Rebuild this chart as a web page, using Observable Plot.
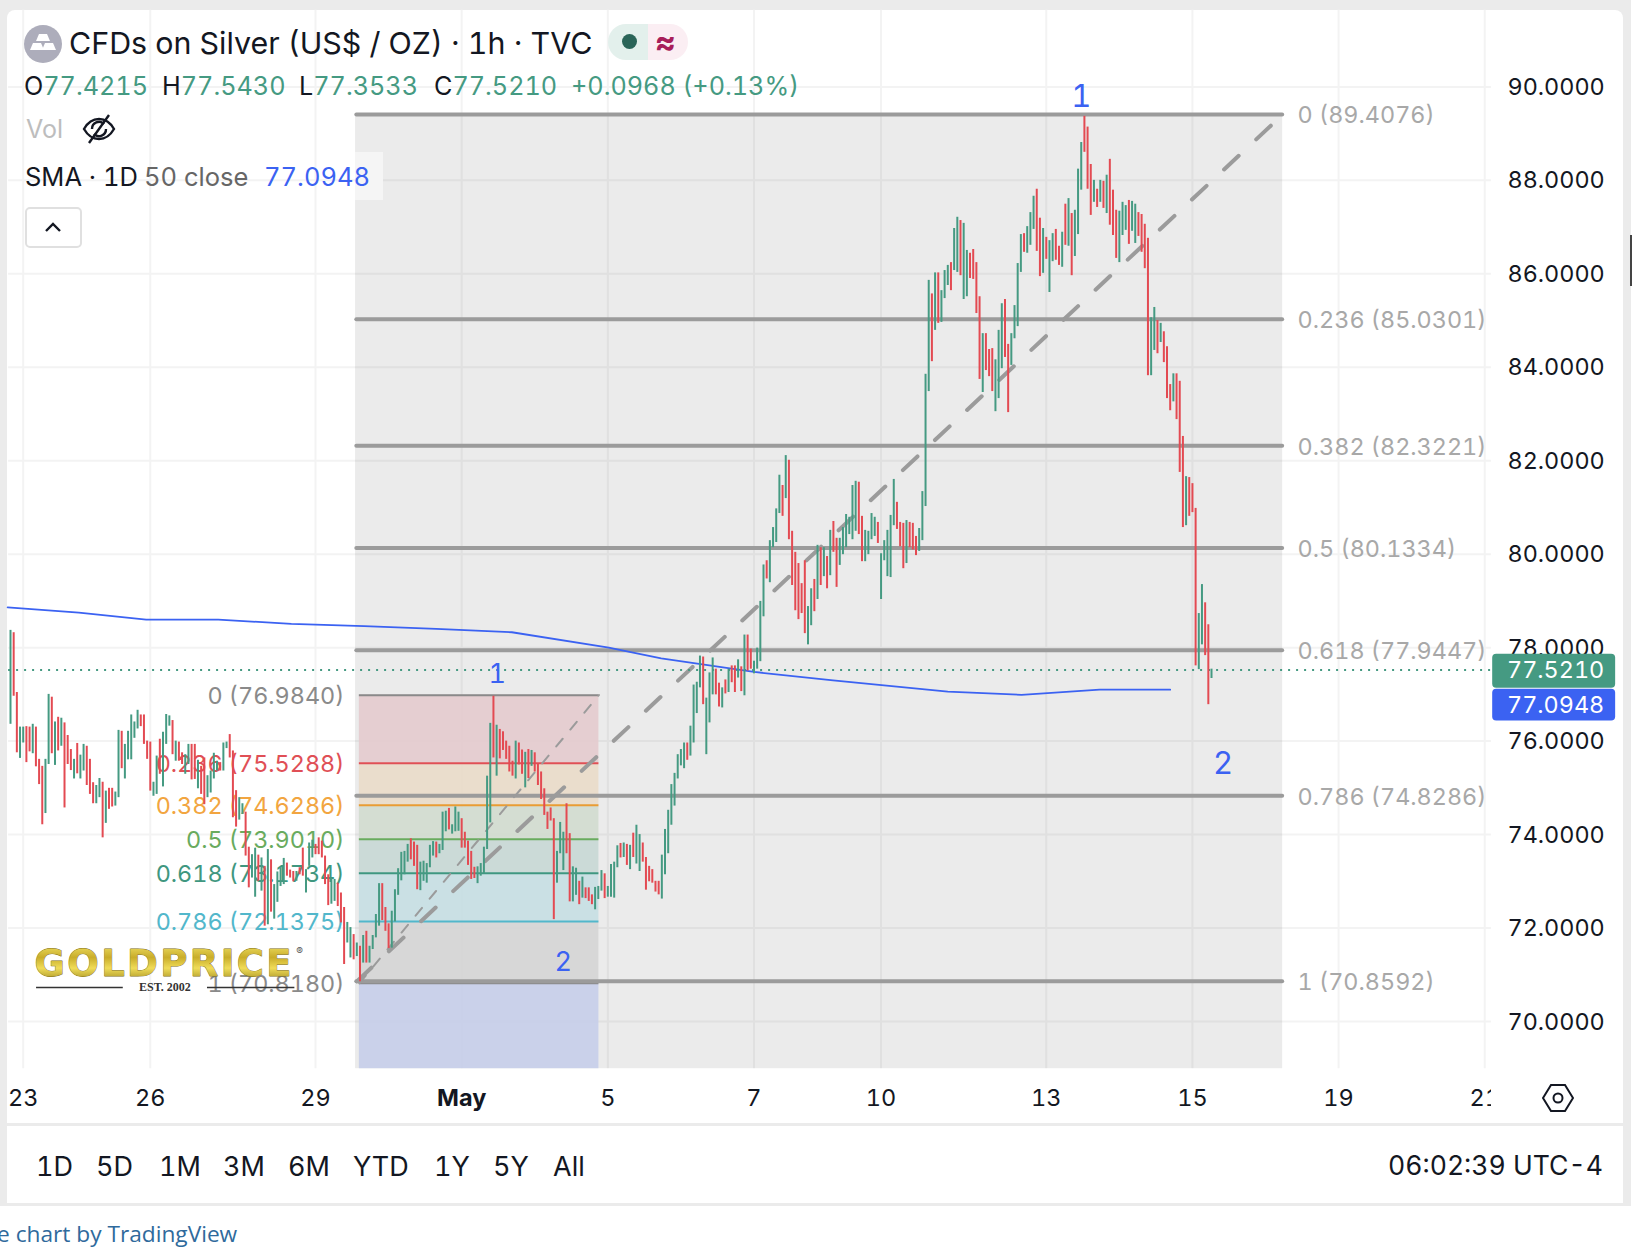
<!DOCTYPE html>
<html><head><meta charset="utf-8">
<script src="https://cdn.jsdelivr.net/npm/d3@7"></script>
<script src="https://cdn.jsdelivr.net/npm/@observablehq/plot@0.6"></script>
<style>
html,body{margin:0;padding:0;background:#fff;font-family:Inter,sans-serif;color:#131722;font-variant-numeric:tabular-nums}
#page{position:relative;width:1632px;height:1256px;overflow:hidden;background:#fff}
#frame{position:absolute;left:0;top:0;width:1632px;height:1206px;background:#ebebeb}
#inner{position:absolute;left:7px;top:10px;width:1616px;height:1193px;background:#fff;border-radius:8px 8px 0 0}
#chart{position:absolute;left:0;top:0}
#chart svg text{font-variant-numeric:tabular-nums}
.logo text{letter-spacing:2.4px}
.t{position:absolute;white-space:nowrap;line-height:40px;height:40px}
.g{color:#459a82}
</style></head><body>
<div id="page">
<div id="frame"></div><div id="inner"></div>
<svg width="0" height="0" style="position:absolute"><defs>
<linearGradient id="gold" x1="0" y1="0" x2="0" y2="1">
<stop offset="0" stop-color="#f4e66b"/><stop offset=".35" stop-color="#c9ad2a"/><stop offset=".6" stop-color="#f0dc58"/><stop offset="1" stop-color="#8f7a12"/>
</linearGradient></defs></svg>
<div id="chart"></div>
<div id="ui"></div>
</div>
<script>
// ---------- OHLC bars (high / low / direction) ----------
const highsA=[78.37,78.32,77.04,76.30,76.30,76.31,76.30,76.36,76.30,75.61,
75.46,75.61,77.00,76.94,76.41,76.51,76.49,76.39,76.12,75.82,
75.61,75.95,75.70,75.93,75.89,75.61,75.11,75.05,75.20,75.12,
74.93,74.99,74.99,74.91,76.23,76.21,75.93,76.21,76.56,76.41,
76.66,76.56,76.56,76.00,75.98,75.12,75.68,76.04,76.19,76.57,
76.54,76.44,76.00,75.98,75.75,75.71,75.93,75.93,75.93,75.59,
75.46,75.64,75.26,75.36,75.74,75.57,75.54,75.96,75.98,76.14,
75.79,74.94,74.79,74.66,74.48,73.73,73.57,73.71,73.56,73.50,
73.32,73.68,73.46,72.93,73.20,73.29,73.49,73.39,73.24,73.21,
73.21,73.29,73.71,73.25,73.82,73.88,73.79,73.93,73.86,73.54,
73.14,73.07,73.04,72.96];
const lowsA=[76.36,76.96,75.75,75.63,75.96,75.54,75.77,75.73,75.45,75.07,
74.21,74.45,75.50,75.73,75.48,75.79,75.89,74.57,75.50,75.37,
75.19,75.30,75.19,75.36,75.05,74.86,74.66,74.66,74.79,73.93,
74.24,74.54,74.59,74.61,74.79,75.41,75.19,75.60,75.60,76.06,
76.26,76.31,75.93,75.61,74.93,74.82,74.86,75.29,75.02,75.93,
76.32,75.71,75.57,75.57,75.50,75.29,75.50,75.17,75.18,74.98,
74.86,74.64,74.79,74.89,75.19,75.36,75.36,75.36,75.84,75.64,
74.36,74.16,74.31,74.43,73.54,72.86,73.07,72.66,73.00,72.79,
72.04,72.07,72.34,72.19,72.55,72.89,72.93,73.11,73.07,72.99,
73.00,73.14,73.11,72.75,73.32,73.50,73.57,73.57,73.50,72.93,
72.48,72.51,72.57,72.46];
const dirsA="GRRGGRRGRRRGGRGRGRRRGRGGRRRGGRGRRGGRGGGGGRRRRGGRGGGRGRRGGRRGRRGGGGRGGRRRGGRRGGRGRGRGGGGRRRGRRGGGRRRRRGGR";
const highsB=[72.75,72.44,72.12,72.01,71.86,71.68,71.61,71.84,71.93,71.61,
71.84,72.29,72.95,72.95,72.44,72.09,72.36,72.82,73.27,73.62,
73.64,73.79,73.91,73.84,73.77,73.41,73.43,73.38,73.77,73.85,
73.84,73.79,74.48,74.50,74.56,74.21,74.59,74.48,74.34,74.05,
73.86,73.64,73.30,73.31,73.38,73.73,75.25,76.38,76.96,76.34,
76.25,76.20,76.00,75.89,75.57,76.00,75.96,75.81,75.76,75.82,
75.80,75.75,75.52,75.34,74.98,74.48,74.57,74.34,73.64,74.26,
74.05,74.66,74.02,73.31,73.28,73.00,73.09,72.86,72.86,72.71,
72.87,72.89,73.23,73.16,72.89,73.36,73.41,73.76,73.81,73.82,
73.79,73.77,74.03,74.20,74.00,73.82,73.51,73.32,73.25,73.00,
73.00,73.56,74.11,74.52];
const lowsB=[72.11,71.22,71.68,71.36,71.32,71.39,70.85,71.25,71.25,71.25,
71.54,71.79,72.04,72.16,71.93,71.56,71.57,72.13,72.70,73.01,
73.14,73.41,73.46,73.32,72.82,72.80,73.00,72.96,73.29,73.54,
73.50,73.59,73.66,74.06,74.10,74.01,74.06,74.07,73.71,73.71,
73.34,73.04,73.06,72.95,73.11,73.16,73.68,74.25,75.64,75.25,
75.62,75.80,75.61,75.34,75.25,75.19,75.49,75.29,75.00,75.20,
75.46,75.34,75.05,74.75,74.41,74.11,74.29,72.18,72.96,73.59,
73.23,73.59,72.56,72.56,72.70,72.50,72.64,72.63,72.57,72.50,
72.39,72.61,72.79,72.63,72.66,72.66,72.64,73.29,73.50,73.51,
73.34,73.25,73.51,73.37,73.21,73.41,72.81,72.99,72.96,72.77,
72.71,72.62,73.14,73.59];
const dirsB="RRGGRGRGRGGGGRRRGGGGGGRRRGGGGGRGGGRGGGRRRRRGGGGGRGRRRRRGRRGRGRRRRRRRGGGRRGGRGRRRGGGRGGGGRGRGRGGRRRRRRGGG";
const highsC=[75.07,75.31,75.71,75.82,75.96,75.96,76.32,77.20,77.26,77.82,
77.80,76.92,77.46,77.78,77.54,77.24,77.14,77.31,77.54,77.61,
77.61,77.74,77.59,78.27,78.27,77.97,77.71,77.99];
const lowsC=[74.20,74.61,75.19,75.47,75.41,75.59,75.68,75.96,76.59,77.14,
76.78,75.71,76.39,76.99,76.99,76.73,76.71,77.01,77.04,77.25,
77.04,77.35,77.06,76.97,77.50,77.54,77.44,77.54];
const dirsC="GGGGGRGGGGRGGGRRGRGRRGRGRRGG";
const highsD=[78.99,79.77,79.86,80.29,80.57,80.97,81.69,81.47,82.11,82.01,
80.49,80.04,79.80,79.37,79.86,78.88,79.26,79.46,80.19,80.14,
80.14,79.95,80.51,80.70,80.34,80.34,80.57,80.85,80.79,81.47,
81.56,81.54,80.81,80.51,80.49,80.87,80.79,80.68,80.01,80.29,
80.51,80.83,81.60,81.11,80.68,80.66,80.72,80.68,80.66,80.38,
80.55,81.34,83.85];
const lowsD=[77.70,78.66,79.47,79.39,80.14,80.25,80.87,80.81,81.19,80.31,
79.33,78.79,78.60,78.73,78.30,78.06,78.47,78.77,79.03,79.33,
79.52,79.26,79.54,80.04,79.29,79.76,79.99,80.14,80.42,80.31,
80.49,80.42,79.84,79.84,79.99,80.31,80.38,80.23,79.03,79.86,
79.52,79.50,80.61,80.53,80.16,79.69,79.80,80.14,80.09,79.97,
80.06,80.29,81.02];
const dirsD="GGRGGGGRGRRRRRRGGRGRGRGRRGGGGGGRRGGGGRGGGGGRRRGRRRGGG";
const highsE=[85.86,85.57,86.02,86.02,85.64,86.07,86.18,86.24,86.97,87.21,
87.14,87.08,86.50,86.44,86.52,86.24,85.51,84.72,84.72,84.38,
84.40,84.16,84.79,85.36,85.45,84.49,84.72,85.32,86.22,86.84,
86.86,87.01,87.31,87.66,87.81,87.19,86.97,86.78,86.71,86.86,
86.95,86.59,86.89,87.49,87.61,87.29,87.36,88.24,88.81,89.37,
89.14,88.34,88.00,87.81,88.00,87.98,88.11,88.45,87.79,87.36,
87.34,87.53,87.46,87.57,87.55,87.49,87.31,87.27,87.06,86.76,
85.06,85.28,85.00,84.94,84.76,84.44,83.63,83.86,83.86];
const lowsE=[83.48,84.12,84.79,84.94,84.96,85.47,85.75,85.64,86.07,86.03,
85.96,85.45,85.51,85.90,85.88,85.15,83.74,83.46,83.93,83.80,
83.48,83.05,83.33,83.97,84.21,83.03,84.04,84.61,84.87,86.03,
86.46,86.44,86.61,86.95,86.48,85.94,86.01,86.31,85.60,86.26,
86.29,86.18,86.14,86.61,86.59,85.96,86.37,86.84,87.79,88.60,
87.81,87.25,87.53,87.42,87.53,87.40,87.29,87.04,86.82,86.33,
86.24,86.82,86.93,86.63,86.91,86.65,86.80,86.46,86.11,83.82,
83.82,84.36,84.29,84.53,84.10,83.33,83.07,83.26,82.88];
const dirsE="GRGRGGGRGGRGGRRRRGRRRGGGRRGGGGRGGGRRGRGGRRGRGRGGGRRRGRGRGRRRGGGRGGRRRRGGRGRRRGR";
const highsF=[83.70,82.52,81.66,81.64,81.51,80.98,78.73,79.35,78.96,78.49,77.54];
const lowsF=[81.75,80.57,80.61,80.81,80.89,77.61,77.53,78.06,77.83,76.78,77.34];
const dirsF="RRGRRRGGRRG";

// ---------- SMA 1D 50 ----------
const smaIndex=[-0.9,21.5,42.7,65.4,88.4,111.3,134,157.8,188.3,204.8,234,258.9,295,318.2,342.8,365];
const smaValue=[78.86,78.75,78.60,78.60,78.51,78.46,78.40,78.33,78.00,77.77,77.48,77.30,77.06,76.99,77.10,77.10];

// ---------- Fibonacci retracements ----------
const bigRatios=["0","0.236","0.382","0.5","0.618","0.786","1"];
const bigLevels=[89.4076,85.0301,82.3221,80.1334,77.9447,74.8286,70.8592];
const smallRatios=["0","0.236","0.382","0.5","0.618","0.786","1"];
const smallLevels=[76.9840,75.5288,74.6286,73.9010,73.1734,72.1375,70.8180];
const smallLine=["#8a8a8a","#e04f56","#ea9c33","#69ab5e","#3f9780","#52b7cb","#8a8a8a"];
const smallText=["#8a8a8a","#e04f56","#f2a540","#69ab5e","#3f9780","#52b7cb","#8a8a8a"];
const smallBand=["#e4cbcf","#e9dcc9","#d2dcd0","#c8d8d5","#c7dfe3","#d5d5d5","#c7cfe9"];

// ---------- axes ----------
const priceTicks=[70,72,74,76,78,80,82,84,86,88,90];
const timeTicks=[4,44,96,188,234,274,326,372,418,464];
const timeLabels=["23","26","29","5","7","10","13","15","19","21"];
const monthTick=142, monthLabel="May";

const lastClose=77.5210, lastSma=77.0948;
const waveX=[337,381.6,153.2,174], waveY=[89.78,75.50,77.42,71.27], waveText=["1","2","1","2"];

// bar spans in the time scale, price span of the pane
const bigL=109,bigR=400.4,smallL=109.8,smallR=185.2,paneL=-0.6,paneR=466.1,paneTop=91.64,paneBottom=68.99;

const bars=[];
[[highsA,lowsA,dirsA],[highsB,lowsB,dirsB],[highsC,lowsC,dirsC],[highsD,lowsD,dirsD],[highsE,lowsE,dirsE],[highsF,lowsF,dirsF]]
 .forEach(([h,l,d])=>h.forEach((v,i)=>bars.push({i:bars.length,h:v,l:l[i],up:d[i]==="G"})));
const sma=smaIndex.map((x,i)=>({x,y:smaValue[i]}));
const bigRows=bigLevels.map((y,i)=>({y,t:`${bigRatios[i]} (${y.toFixed(4)})`}));
const smallRows=smallLevels.map((y,i)=>({y,i,t:`${smallRatios[i]} (${y.toFixed(4)})`,line:smallLine[i],text:smallText[i],
  next:i<6?smallLevels[i+1]:paneBottom,band:smallBand[i]}));
const waves=waveText.map((t,i)=>({t,x:waveX[i],y:waveY[i]}));

const GREEN="#459a82",RED="#e34a52",BLUE="#3b62f2",FS=23.4;
const plot=Plot.plot({
 width:1632,height:1256,marginTop:10,marginBottom:189,marginLeft:8,marginRight:125,
 style:{fontFamily:"Inter,sans-serif",background:"transparent",overflow:"visible"},
 x:{type:"linear",domain:[0,378],range:[10,1211],label:null},
 y:{type:"linear",domain:[70,90],range:[1021,86.4],label:null},
 marks:[
  // grid
  Plot.ruleY(priceTicks,{y:d=>d,x1:paneL,x2:paneR,stroke:"#f3f3f3",strokeWidth:2}),
  Plot.ruleX(timeTicks.concat([monthTick]),{x:d=>d,y1:paneTop,y2:paneBottom,stroke:"#f3f3f3",strokeWidth:2}),
  // big fib background
  Plot.rect([0],{x1:bigL-.4,x2:bigR,y1:bigLevels[0],y2:paneBottom,fill:"#000",fillOpacity:.08}),
  // small fib bands
  Plot.rect(smallRows,{x1:smallL,x2:smallR,y1:"y",y2:"next",fill:"band",fillOpacity:.93}),
  // small fib lines, labels
  Plot.ruleY(smallRows,{y:"y",x1:smallL,x2:smallR,stroke:"line",strokeWidth:2}),
  Plot.ruleY(bigRows,{y:"y",x1:bigL,x2:bigR,stroke:"#9b9b9b",strokeWidth:4,strokeLinecap:"round"}),
  Plot.line([[smallL,smallLevels[6]],[smallR,smallLevels[0]]],{stroke:"#9b9b9b",strokeWidth:2,strokeDasharray:"10 12"}),
  Plot.line([[bigL,bigLevels[6]],[bigR,bigLevels[0]]],{stroke:"#9b9b9b",strokeWidth:4,strokeDasharray:"20 24"}),
  Plot.text(smallRows,{x:bigL-3.9,y:d=>d.y-.02,text:"t",fill:"text",textAnchor:"end",fontSize:FS,lineAnchor:"middle"}),
  Plot.text(bigRows,{x:405.1,y:d=>d.y-.03,text:"t",fill:"#a8a8a8",textAnchor:"start",fontSize:FS,lineAnchor:"middle"}),
  // dotted last-price line
  Plot.ruleY([lastClose],{y:d=>d,x1:paneL,x2:paneR,stroke:GREEN,strokeWidth:2,strokeDasharray:"2 6"}),
  // SMA
  Plot.line(sma,{x:"x",y:"y",stroke:BLUE,strokeWidth:1.8}),
  // watermark
  Plot.text(["GOLDPRICE"],{x:48.4,y:71.22,text:d=>d,fontFamily:"DejaVu Sans",fontWeight:700,fontSize:37,fill:"url(#gold)",stroke:"#7d6b10",strokeWidth:.8,lineAnchor:"middle",className:"logo"}),
  Plot.text(["®"],{x:91,y:71.5,text:d=>d,fontSize:10,fill:"#555"}),
  Plot.text(["EST. 2002"],{x:48.6,y:70.73,text:d=>d,fontFamily:"Liberation Serif",fontWeight:700,fontSize:12,fill:"#333"}),
  Plot.ruleY([70.73],{y:d=>d,x1:8.2,x2:35.5,stroke:"#333",strokeWidth:1.5}),
  Plot.ruleY([70.73],{y:d=>d,x1:62,x2:89.5,stroke:"#333",strokeWidth:1.5}),
  // bars
  Plot.ruleX(bars.filter(d=>d.up),{x:"i",y1:"l",y2:"h",stroke:GREEN,strokeWidth:2}),
  Plot.ruleX(bars.filter(d=>!d.up),{x:"i",y1:"l",y2:"h",stroke:RED,strokeWidth:2}),
  // wave labels
  Plot.text(waves.slice(0,2),{x:"x",y:"y",text:"t",fill:BLUE,fontSize:31,lineAnchor:"middle"}),
  Plot.text(waves.slice(2),{x:"x",y:"y",text:"t",fill:BLUE,fontSize:27,lineAnchor:"middle"}),
  // axes
  Plot.axisY(priceTicks,{anchor:"right",label:null,tickSize:0,tickPadding:0,tickFormat:d=>d.toFixed(4),fontSize:23.4,fill:"#131722",textAnchor:"start",dy:0.5}),
  Plot.axisX(timeTicks,{anchor:"bottom",label:null,tickSize:0,tickPadding:22,tickFormat:d=>timeLabels[timeTicks.indexOf(d)],fontSize:23.5,fill:"#131722"}),
  Plot.text([monthLabel],{x:monthTick,y:68.35,text:d=>d,fontWeight:700,fontSize:23.5,fill:"#131722",lineAnchor:"middle"}),
  // price tags
  Plot.rect([0],{x1:466.5,x2:505.2,y1:77.86,y2:77.13,fill:GREEN,rx:4}),
  Plot.rect([0],{x1:466.5,x2:505.2,y1:77.11,y2:76.43,fill:BLUE,rx:4}),
  Plot.text([lastClose],{x:471,y:d=>d-.02,text:d=>d.toFixed(4),textAnchor:"start",fill:"#fff",fontSize:23.4,lineAnchor:"middle"}),
  Plot.text([lastSma],{x:471,y:d=>d-.33,text:d=>d.toFixed(4),textAnchor:"start",fill:"#fff",fontSize:23.4,lineAnchor:"middle"})
 ]
});
document.getElementById("chart").append(plot);

// ---------- chrome: header, toolbar ----------
const ui=document.getElementById("ui");
function T(x,cy,html,css=""){const e=document.createElement("div");e.className="t";e.style.cssText=`left:${x}px;top:${cy-20}px;${css}`;e.innerHTML=html;ui.append(e);return e;}
function B(css){const e=document.createElement("div");e.style.cssText="position:absolute;"+css;ui.append(e);return e;}
// right edge of the window
B("left:1631px;top:0;width:1px;height:1206px;background:#fff");
B("left:1630px;top:235px;width:2px;height:51px;background:#444");
// cover that clips the last time tick
B("left:1491px;top:1074px;width:130px;height:46px;background:#fff");
B("left:7px;top:1123px;width:1616px;height:3px;background:#ebebeb");
// symbol icon
B("left:24px;top:25px;width:38px;height:38px;border-radius:50%;background:#adadbb").innerHTML=
 `<svg width="38" height="38" viewBox="0 0 38 38"><g fill="#fff"><path d="M15 9h8l3 7H12z"/><path d="M9 18h8l3 7H6z"/><path d="M21 18h8l3 7H18z"/></g></svg>`;
T(69,43,"CFDs on Silver (US$ / OZ) · 1h · TVC","font-size:30.4px");
B("left:608px;top:24px;width:40px;height:36px;background:#e3f0ec;border-radius:18px 0 0 18px");
B("left:648px;top:24px;width:40px;height:36px;background:#fbeef3;border-radius:0 18px 18px 0");
B("left:622px;top:34px;width:15px;height:15px;border-radius:50%;background:#2a6558");
T(655,42,"≈","font-size:32px;font-weight:700;color:#a81e5a");
T(24,86,`O<span class="g">77.4215</span>`,"font-size:25.2px");
T(162,86,`H<span class="g">77.5430</span>`,"font-size:25.2px");
T(299,86,`L<span class="g">77.3533</span>`,"font-size:25.2px");
T(434,86,`C<span class="g">77.5210</span>`,"font-size:25.2px");
T(571,86,`<span class="g">+0.0968 (+0.13%)</span>`,"font-size:25.2px");
T(26,129,"Vol","font-size:25px;color:#bdbdbd");
B("left:82px;top:112px;width:34px;height:34px").innerHTML=
 `<svg width="34" height="34" viewBox="0 0 34 34" fill="none" stroke="#131722" stroke-width="2.4"><path d="M2 17c4-7 9-10 15-10s11 3 15 10c-4 7-9 10-15 10S6 24 2 17z"/><path d="M10 17a7 7 0 0 1 12-5M24 17a7 7 0 0 1-12 5"/><path d="M7 31L27 3"/></svg>`;
B("left:355px;top:152px;width:28px;height:48px;background:#f5f5f5");
T(25,177,"SMA · 1D","font-size:25.5px");
T(144,177,"50 close","font-size:25.5px;color:#666");
T(264,177,"77.0948",`font-size:25.5px;color:${BLUE}`);
B("left:25px;top:207px;width:57px;height:41px;box-sizing:border-box;border:2px solid #e0e0e0;border-radius:5px;background:#fff").innerHTML=
 `<svg width="53" height="37"><path d="M19 22l7-7 7 7" fill="none" stroke="#131722" stroke-width="2.4"/></svg>`;
B("left:1542px;top:1082px;width:32px;height:32px").innerHTML=
 `<svg width="32" height="32" viewBox="0 0 32 32" fill="none" stroke="#131722" stroke-width="2"><path d="M9 3h14l8 13-8 13H9L1 16z"/><circle cx="16" cy="16" r="4.5"/></svg>`;
const ranges=["1D","5D","1M","3M","6M","YTD","1Y","5Y","All"], rangeX=[36,96,159,223,288,353,434,493,553];
ranges.forEach((r,i)=>T(rangeX[i],1167,r,"font-size:27px"));
T(1388,1165,"06:02:39 UTC-4","font-size:26.6px");
T(-3,1234,"e chart by TradingView","font-size:22.7px;font-family:'Open Sans',sans-serif;color:#2f6a9c");
</script>
</body></html>
